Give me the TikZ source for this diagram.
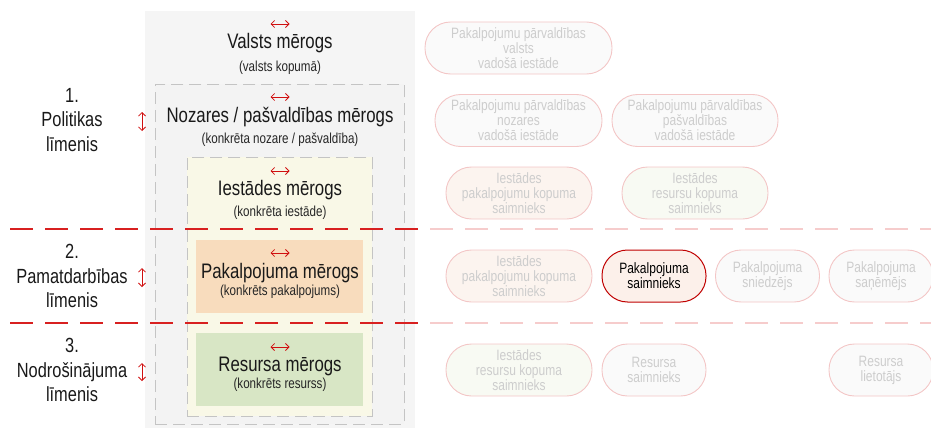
\documentclass[tikz,border=0pt]{standalone}
\usepackage{fontspec}
\setmainfont{Liberation Sans}[FakeStretch=0.8]
\usetikzlibrary{arrows.meta}
\definecolor{outergray}{HTML}{F5F5F5}
\definecolor{nozfill}{HTML}{F3F3F3}
\definecolor{creamfill}{HTML}{F9F8E7}
\definecolor{peachfill}{HTML}{F8DCBD}
\definecolor{greenfill}{HTML}{D8E6C5}
\definecolor{dashgray}{HTML}{C4C4C4}
\definecolor{arrred}{HTML}{D01010}
\definecolor{linered}{HTML}{D82020}
\definecolor{palered}{HTML}{F6CCCC}
\definecolor{pillborder}{HTML}{F3C6C6}
\definecolor{pillfill}{HTML}{FAFAFA}
\definecolor{pillpeach}{HTML}{FCF4EF}
\definecolor{pillgreen}{HTML}{F8FAF3}
\definecolor{pilltext}{HTML}{CDCDCD}
\definecolor{darkred}{HTML}{C00000}
\definecolor{activefill}{HTML}{FCF0EA}
\tikzset{
  region/.style={draw=dashgray, line width=0.8pt, dash pattern=on 12pt off 6pt, inner sep=0pt, anchor=north west},
  scalebox/.style={inner sep=0pt, anchor=north west},
  titletext/.style={font=\fontsize{21}{24}\selectfont, text=black!90, inner sep=0pt},
  subtext/.style={font=\fontsize{14.5}{17}\selectfont, text=black!85, inner sep=0pt},
  leveltext/.style={font=\fontsize{20.5}{24.5}\selectfont, text=black!90, align=center, inner sep=0pt},
  harrow/.style={draw=arrred, line width=0.8pt, {Straight Barb[length=3.5pt,width=7pt]}-{Straight Barb[length=3.5pt,width=7pt]}},
  sepred/.style={draw=linered, line width=1.3pt, dash pattern=on 23pt off 12pt},
  seppale/.style={draw=palered, line width=1.3pt, dash pattern=on 23pt off 12pt},
  pill/.style={rectangle, rounded corners=25.5pt, draw=pillborder, line width=0.9pt, fill=pillfill, text=pilltext,
    minimum height=52pt, align=center, inner sep=0pt, font=\fontsize{15}{15}\selectfont},
  pillp/.style={pill, fill=pillpeach},
  pillg/.style={pill, fill=pillgreen},
  activepill/.style={pill, draw=darkred, fill=activefill, text=black, line width=1pt}
}
\begin{document}
\begin{tikzpicture}[x=1pt,y=-1pt]
\useasboundingbox (0,0) rectangle (931,428);
% nested scale regions
\node[scalebox, fill=outergray, minimum width=270pt, minimum height=417pt] (valsts) at (145,11) {};
\node[region, fill=nozfill, minimum width=249pt, minimum height=340pt] (nozare) at (155,84) {};
\node[region, fill=creamfill, minimum width=185pt, minimum height=259pt] (iestade) at (187,157) {};
\node[scalebox, fill=peachfill, minimum width=167pt, minimum height=73pt] (pakbox) at (196,240) {};
\node[scalebox, fill=greenfill, minimum width=167pt, minimum height=73pt] (resbox) at (196,333) {};
% titles
\node[titletext] (t1) at (280,43.5) {Valsts mērogs};
\node[subtext] (s1) at (280,67.5) {(valsts kopumā)};
\node[titletext] (t2) at (280,117) {Nozares / pašvaldības mērogs};
\node[subtext] (s2) at (280,139.5) {(konkrēta nozare / pašvaldība)};
\node[titletext] (t3) at (280,190) {Iestādes mērogs};
\node[subtext] (s3) at (280,212.5) {(konkrēta iestāde)};
\node[titletext] (t4) at (280,273) {Pakalpojuma mērogs};
\node[subtext] (s4) at (280,292) {(konkrēts pakalpojums)};
\node[titletext] (t5) at (280,366) {Resursa mērogs};
\node[subtext] (s5) at (280,385) {(konkrēts resurss)};
% horizontal arrows
\foreach \yy in {24,97,171,253,347} {
  \draw[harrow] (270.5,\yy) -- (289.5,\yy);
}
% level labels
\node[leveltext] (l1) at (72,120) {1.\\Politikas\\līmenis};
\node[leveltext] (l2) at (72,276) {2.\\Pamatdarbības\\līmenis};
\node[leveltext] (l3) at (72,370) {3.\\Nodrošinājuma\\līmenis};
\draw[harrow] (142,112) -- (142,131);
\draw[harrow] (142,268) -- (142,287);
\draw[harrow] (142,363) -- (142,381);
% separators
\draw[sepred] (10,229) -- (420,229);
\draw[seppale] (430,229) -- (931,229);
\draw[sepred] (10,323) -- (420,323);
\draw[seppale] (430,323) -- (931,323);
% role nodes
\node[pill, minimum width=187pt] (r1) at (518.5,48) {Pakalpojumu pārvaldības\\valsts\\vadošā iestāde};
\node[pill, minimum width=167pt] (r2a) at (518.5,120.5) {Pakalpojumu pārvaldības\\nozares\\vadošā iestāde};
\node[pill, minimum width=166pt] (r2b) at (695,120.5) {Pakalpojumu pārvaldības\\pašvaldības\\vadošā iestāde};
\node[pillp, minimum width=146pt] (r3a) at (519,193) {Iestādes\\pakalpojumu kopuma\\saimnieks};
\node[pillg, minimum width=146pt] (r3b) at (695,193) {Iestādes\\resursu kopuma\\saimnieks};
\node[pillp, minimum width=146pt] (r4a) at (519,276) {Iestādes\\pakalpojumu kopuma\\saimnieks};
\node[activepill, minimum width=104pt] (r4b) at (654,276) {Pakalpojuma\\saimnieks};
\node[pill, minimum width=104pt] (r4c) at (767.5,276) {Pakalpojuma\\sniedzējs};
\node[pill, minimum width=104pt] (r4d) at (881,276) {Pakalpojuma\\saņēmējs};
\node[pillg, minimum width=146pt] (r5a) at (519,370) {Iestādes\\resursu kopuma\\saimnieks};
\node[pill, minimum width=104pt] (r5b) at (654,370) {Resursa\\saimnieks};
\node[pill, minimum width=104pt] (r5c) at (881,370) {Resursa\\lietotājs};
\end{tikzpicture}
\end{document}
